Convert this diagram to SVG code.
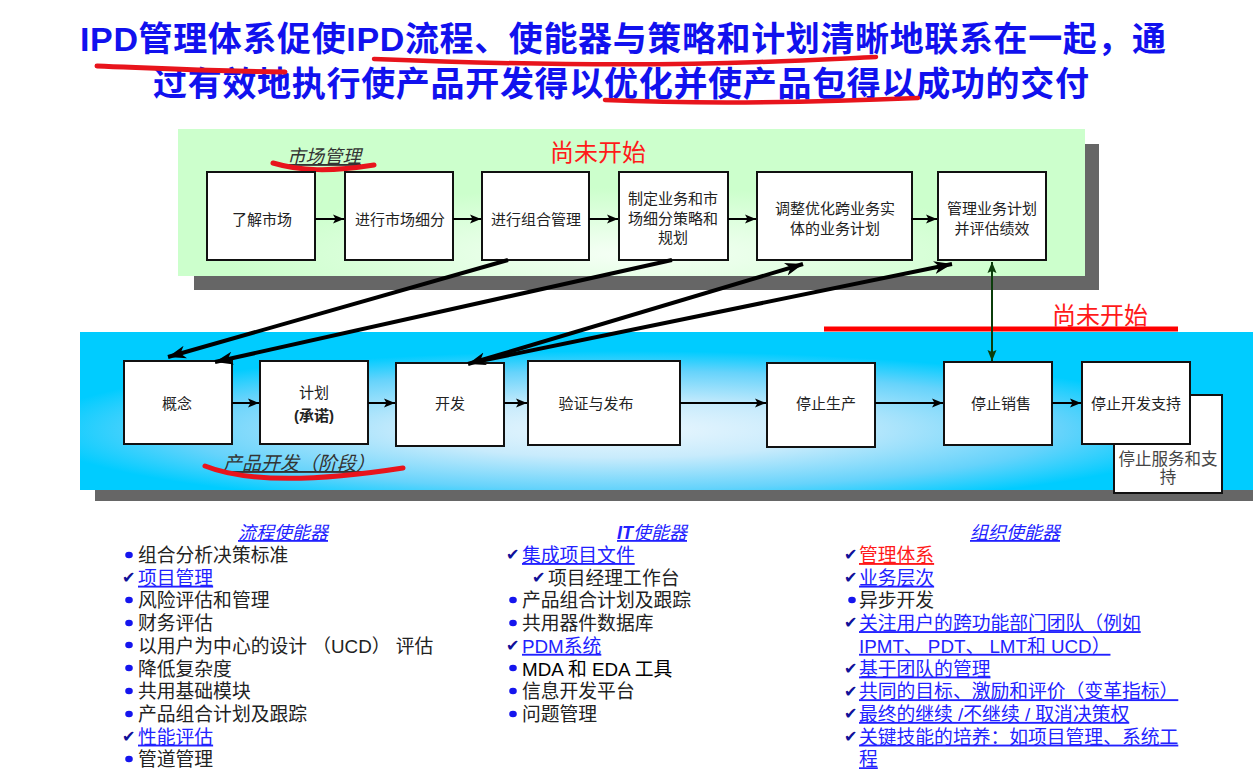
<svg xmlns="http://www.w3.org/2000/svg" width="1260" height="769" viewBox="0 0 1260 769">
<defs>
<radialGradient id="gGreen" cx="0.5" cy="0.85" r="0.45">
<stop offset="0" stop-color="#f6fff6"/>
<stop offset="1" stop-color="#ccffcc"/>
</radialGradient>
<radialGradient id="gBlue" cx="0.46" cy="0.62" r="0.5">
<stop offset="0" stop-color="#ecf7fe"/>
<stop offset="0.35" stop-color="#c8ebfc"/>
<stop offset="0.75" stop-color="#66d3fb"/>
<stop offset="1" stop-color="#00ccff"/>
</radialGradient>
<marker id="aS" markerUnits="userSpaceOnUse" markerWidth="12" markerHeight="10" refX="11" refY="5" orient="auto">
<path d="M0,0.5 L11,5 L0,9.5 L2.5,5 z" fill="#000"/>
</marker>
<marker id="aL" markerUnits="userSpaceOnUse" markerWidth="20" markerHeight="14" refX="18" refY="7" orient="auto-start-reverse">
<path d="M0,0.5 L18,7 L0,13.5 L5,7 z" fill="#000"/>
</marker>
<marker id="aG" markerUnits="userSpaceOnUse" markerWidth="12" markerHeight="10" refX="11" refY="5" orient="auto-start-reverse">
<path d="M0,0.5 L11,5 L0,9.5 L2,5 z" fill="#0b3d0b"/>
</marker>
</defs>
<style>
.t{font-family:"Liberation Sans","Noto Sans CJK SC",sans-serif}
.title{font-size:34px;font-weight:700;fill:#1111ee}
.box{fill:#fff;stroke:#111;stroke-width:2}
.bt{font-size:15px;fill:#222;text-anchor:middle}
.red{fill:#ff1a1a;font-size:24px}
.lab{font-size:18.5px;font-style:italic;text-decoration:underline;fill:#333}
.li{font-size:18.8px;fill:#222}
.lk{font-size:18.8px;fill:#2222ff;text-decoration:underline}
.hd{font-size:18px;font-style:italic;fill:#2222ff;text-decoration:underline;text-anchor:middle}
.ck{font-family:"DejaVu Sans",sans-serif;font-size:16px;font-weight:700;fill:#10109a}
.bu{fill:#1515ee}
.ln{stroke:#000;stroke-width:2;fill:none}
.dl{stroke:#000;stroke-width:4;fill:none}
.sw{stroke:#e8141c;stroke-linecap:round;fill:none}
</style>

<g id="title">
<text class="t title" x="80" y="51" textLength="1086" lengthAdjust="spacing">IPD管理体系促使IPD流程、使能器与策略和计划清晰地联系在一起，通</text>
<text class="t title" x="153" y="96" textLength="936" lengthAdjust="spacing">过有效地执行使产品开发得以优化并使产品包得以成功的交付</text>
<path class="sw" stroke-width="5" d="M97,66 C150,68 200,71 285,72"/>
<path class="sw" stroke-width="4.5" d="M374,59 C500,64 650,66 760,62 C820,60 850,58 876,57"/>
<path class="sw" stroke-width="4.5" d="M605,100 C700,104 800,103 918,98"/>
</g>

<g id="market-panel">
<rect x="194" y="144" width="905" height="146" fill="#666"/>
<rect x="178" y="129" width="907" height="147" fill="url(#gGreen)"/>
<text class="t lab" x="287" y="163">市场管理</text>
<path class="sw" stroke-width="5" d="M273,163 C300,171 330,172 374,165"/>
<text class="t red" x="550" y="161">尚未开始</text>
</g>

<g id="pd-panel">
<rect x="95" y="346" width="1158" height="155" fill="#666"/>
<rect x="80" y="332" width="1173" height="158" fill="url(#gBlue)"/>
<text class="t lab" x="223" y="470" style="font-size:19px">产品开发（阶段）</text>
<path class="sw" stroke-width="5" d="M205,466 C240,480 300,484 403,468"/>
<line x1="824" y1="329" x2="1178" y2="329" stroke="#ff0000" stroke-width="5"/>
<text class="t red" x="1052" y="324">尚未开始</text>
</g>

<g id="n1"><rect class="box" x="207" y="172" width="108" height="88"/><text class="t bt" x="262" y="224.5">了解市场</text></g>
<g id="n2"><rect class="box" x="345" y="172" width="108" height="88"/><text class="t bt" x="400" y="224.5">进行市场细分</text></g>
<g id="n3"><rect class="box" x="482" y="172" width="107" height="88"/><text class="t bt" x="536" y="224.5">进行组合管理</text></g>
<g id="n4"><rect class="box" x="619" y="172" width="109" height="88"/><text class="t bt" x="673" y="203.5">制定业务和市</text><text class="t bt" x="673" y="223.5">场细分策略和</text><text class="t bt" x="673" y="242.5">规划</text></g>
<g id="n5"><rect class="box" x="757" y="172" width="155" height="88"/><text class="t bt" x="835" y="213.5">调整优化跨业务实</text><text class="t bt" x="835" y="233.5">体的业务计划</text></g>
<g id="n6"><rect class="box" x="938" y="172" width="108" height="88"/><text class="t bt" x="992" y="213.5">管理业务计划</text><text class="t bt" x="992" y="233.5">并评估绩效</text></g>

<g id="p1"><rect class="box" x="124" y="361" width="108" height="83"/><text class="t bt" x="177" y="408.5">概念</text></g>
<g id="p2"><rect class="box" x="260" y="361" width="108" height="83"/><text class="t bt" x="314" y="397.5">计划</text><text class="t bt" x="314" y="420.5" font-weight="700">(承诺)</text></g>
<g id="p3"><rect class="box" x="396" y="363" width="108" height="83"/><text class="t bt" x="450" y="408.5">开发</text></g>
<g id="p4"><rect class="box" x="528" y="361" width="152" height="84"/><text class="t bt" x="596" y="408.5">验证与发布</text></g>
<g id="p5"><rect class="box" x="767" y="363" width="108" height="84"/><text class="t bt" x="826" y="408.5">停止生产</text></g>
<g id="p6"><rect class="box" x="944" y="362" width="108" height="83"/><text class="t bt" x="1001" y="408.5">停止销售</text></g>
<g id="p8"><rect class="box" x="1114" y="395" width="108" height="98"/><text class="t bt" x="1168" y="465" style="font-size:16.5px;fill:#444">停止服务和支</text><text class="t bt" x="1168" y="483" style="font-size:16.5px;fill:#444">持</text></g>
<g id="p7"><rect class="box" x="1082" y="362" width="108" height="82"/><text class="t bt" x="1136" y="408.5">停止开发支持</text></g>

<g id="connectors">
<line class="ln" x1="315" y1="219" x2="344" y2="219" marker-end="url(#aS)"/>
<line class="ln" x1="453" y1="219" x2="481" y2="219" marker-end="url(#aS)"/>
<line class="ln" x1="589" y1="219" x2="618" y2="219" marker-end="url(#aS)"/>
<line class="ln" x1="728" y1="219" x2="756" y2="219" marker-end="url(#aS)"/>
<line class="ln" x1="911" y1="219" x2="937" y2="219" marker-end="url(#aS)"/>
<line class="ln" x1="232" y1="403" x2="259" y2="403" marker-end="url(#aS)"/>
<line class="ln" x1="368" y1="403" x2="395" y2="403" marker-end="url(#aS)"/>
<line class="ln" x1="504" y1="403" x2="527" y2="403" marker-end="url(#aS)"/>
<line class="ln" x1="680" y1="403" x2="766" y2="403" marker-end="url(#aS)"/>
<line class="ln" x1="875" y1="403" x2="943" y2="403" marker-end="url(#aS)"/>
<line class="ln" x1="1052" y1="403" x2="1081" y2="403" marker-end="url(#aS)"/>
<line class="dl" x1="508" y1="260" x2="168" y2="357" marker-end="url(#aL)"/>
<line class="dl" x1="672" y1="260" x2="215" y2="362" marker-end="url(#aL)"/>
<line class="dl" x1="468" y1="364" x2="803" y2="264" marker-start="url(#aL)" marker-end="url(#aL)"/>
<line class="dl" x1="480" y1="361" x2="952" y2="264" marker-end="url(#aL)"/>
<line x1="992" y1="262" x2="992" y2="361" stroke="#0b3d0b" stroke-width="2" marker-start="url(#aG)" marker-end="url(#aG)"/>
</g>

<g id="process-enablers">
<text class="t hd" x="283" y="539">流程使能器</text>
<ellipse class="bu" cx="129" cy="555" rx="3.8" ry="3.3"/><text class="t li" x="138" y="562">组合分析决策标准</text>
<text class="ck" x="122" y="583">✔</text><text class="t lk" x="138" y="584.7">项目管理</text>
<ellipse class="bu" cx="129" cy="600" rx="3.8" ry="3.3"/><text class="t li" x="138" y="607.4">风险评估和管理</text>
<ellipse class="bu" cx="129" cy="623" rx="3.8" ry="3.3"/><text class="t li" x="138" y="630.1">财务评估</text>
<ellipse class="bu" cx="129" cy="645" rx="3.8" ry="3.3"/><text class="t li" x="138" y="652.8">以用户为中心的设计 （UCD） 评估</text>
<ellipse class="bu" cx="129" cy="668" rx="3.8" ry="3.3"/><text class="t li" x="138" y="675.5">降低复杂度</text>
<ellipse class="bu" cx="129" cy="691" rx="3.8" ry="3.3"/><text class="t li" x="138" y="698.2">共用基础模块</text>
<ellipse class="bu" cx="129" cy="714" rx="3.8" ry="3.3"/><text class="t li" x="138" y="720.9">产品组合计划及跟踪</text>
<text class="ck" x="122" y="742">✔</text><text class="t lk" x="138" y="743.6">性能评估</text>
<ellipse class="bu" cx="129" cy="759" rx="3.8" ry="3.3"/><text class="t li" x="138" y="766.3">管道管理</text>
</g>

<g id="it-enablers">
<text class="t hd" x="652" y="539"><tspan font-weight="700">IT</tspan>使能器</text>
<text class="ck" x="506" y="560">✔</text><text class="t lk" x="522" y="562">集成项目文件</text>
<text class="ck" x="532" y="583">✔</text><text class="t li" x="548" y="584.7">项目经理工作台</text>
<ellipse class="bu" cx="513" cy="600" rx="3.8" ry="3.3"/><text class="t li" x="522" y="607.4">产品组合计划及跟踪</text>
<ellipse class="bu" cx="513" cy="623" rx="3.8" ry="3.3"/><text class="t li" x="522" y="630.1">共用器件数据库</text>
<text class="ck" x="506" y="651">✔</text><text class="t lk" x="522" y="652.8">PDM系统</text>
<ellipse class="bu" cx="513" cy="668" rx="3.8" ry="3.3"/><text class="t li" x="522" y="675.5" style="fill:#000">MDA 和 EDA 工具</text>
<ellipse class="bu" cx="513" cy="691" rx="3.8" ry="3.3"/><text class="t li" x="522" y="698.2">信息开发平台</text>
<ellipse class="bu" cx="513" cy="714" rx="3.8" ry="3.3"/><text class="t li" x="522" y="720.9">问题管理</text>
</g>

<g id="org-enablers">
<text class="t hd" x="1015" y="539">组织使能器</text>
<text class="ck" x="844" y="560">✔</text><text class="t lk" x="859" y="562" style="fill:#ff1a1a">管理体系</text>
<text class="ck" x="844" y="583">✔</text><text class="t lk" x="859" y="584.7">业务层次</text>
<ellipse class="bu" cx="852" cy="600" rx="3.8" ry="3.3"/><text class="t li" x="859" y="607.4">异步开发</text>
<text class="ck" x="844" y="628">✔</text><text class="t lk" x="859" y="630.1">关注用户的跨功能部门团队（例如</text>
<text class="t lk" x="859" y="652.8">IPMT、 PDT、 LMT和 UCD） </text>
<text class="ck" x="844" y="674">✔</text><text class="t lk" x="859" y="675.5">基于团队的管理</text>
<text class="ck" x="844" y="697">✔</text><text class="t lk" x="859" y="698.2">共同的目标、激励和评价（变革指标） </text>
<text class="ck" x="844" y="719">✔</text><text class="t lk" x="859" y="720.9">最终的继续 /不继续 / 取消决策权</text>
<text class="ck" x="844" y="742">✔</text><text class="t lk" x="859" y="743.6">关键技能的培养：如项目管理、系统工</text>
<text class="t lk" x="859" y="766.3">程</text>
</g>
</svg>
